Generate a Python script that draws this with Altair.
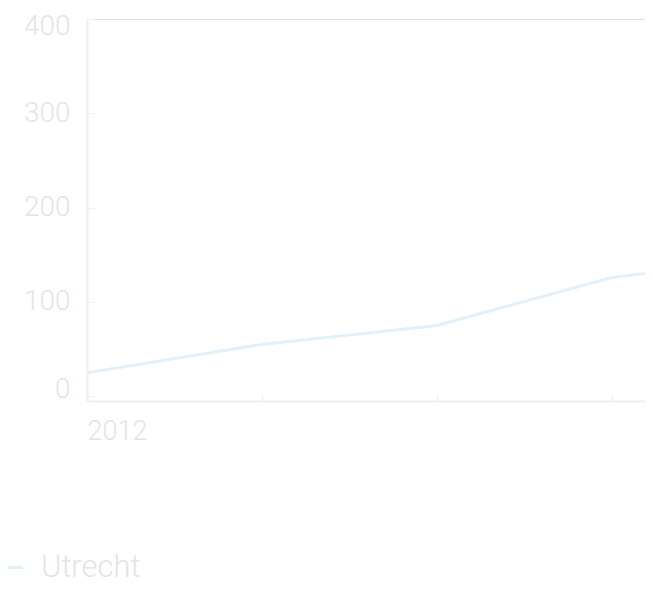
import altair as alt
import pandas as pd

years = [2012, 2013, 2014, 2015, 2016]
values = [25, 55, 75, 126, 148]
series = ["Utrecht"] * len(years)
y_ticks = [0, 100, 200, 300, 400]
x_ticks = [2012, 2013, 2014, 2015]
x_label_years = [2012]

df = pd.DataFrame({"jaar": years, "waarde": values, "stad": series})

FONT = "Roboto"
TEXT = "#e4e4e4"
AXIS = "#efefef"
LINE = "#e2f1f9"

x_scale = alt.Scale(domain=[2012, 2015.19], nice=False, zero=False)
y_scale = alt.Scale(domain=[-5, 400], nice=False, zero=False)

label_test = " || ".join(f"datum.value == {y}" for y in x_label_years)

line = alt.Chart(df).mark_line(strokeWidth=3, clip=True).encode(
    x=alt.X("jaar:Q", scale=x_scale,
            axis=alt.Axis(orient="bottom", title=None, values=x_ticks, offset=-7,
                          domain=False, grid=False, tickSize=7, tickColor=AXIS, tickWidth=1,
                          labelExpr=f"({label_test}) ? format(datum.value, 'd') : ''",
                          labelFlush=True, labelPadding=17, labelColor=TEXT,
                          labelFont=FONT, labelFontSize=27, labelFontWeight=300)),
    y=alt.Y("waarde:Q", scale=y_scale,
            axis=alt.Axis(orient="left", title=None, values=y_ticks, offset=-7,
                          domain=False, grid=False, tickSize=7, tickColor=AXIS, tickWidth=1,
                          labelFlush=6, labelFlushOffset=7, labelPadding=17,
                          labelColor=TEXT, labelFont=FONT, labelFontSize=28,
                          labelFontWeight=300)),
    color=alt.Color("stad:N", scale=alt.Scale(range=[LINE]),
                    legend=alt.Legend(title=None, orient="none", legendX=-91, legendY=533,
                                      symbolType="stroke", symbolSize=529,
                                      symbolStrokeWidth=3, labelOffset=14,
                                      labelFont=FONT, labelFontSize=31, labelFontWeight=300,
                                      labelColor=TEXT, padding=0)),
)

frame = alt.Chart(df).mark_line(opacity=0).encode(
    x=alt.X("jaar:Q", scale=x_scale,
            axis=alt.Axis(orient="bottom", title=None, domain=True, domainColor=AXIS,
                          domainWidth=2, ticks=False, labels=False, grid=False)),
    y=alt.Y("waarde:Q", scale=y_scale,
            axis=alt.Axis(orient="left", title=None, domain=True, domainColor=AXIS,
                          domainWidth=2, ticks=False, labels=False, grid=False)),
)

chart = alt.layer(line, frame).resolve_axis(x="independent", y="independent").properties(
    width=558, height=382,
    autosize=alt.AutoSizeParams(type="none"),
    padding={"left": 79, "top": 11, "right": 0, "bottom": 180},
).configure_view(strokeWidth=0, strokeOpacity=0).configure(background="white")

chart.save("out.html", embed_options={"renderer": "svg", "actions": False})
